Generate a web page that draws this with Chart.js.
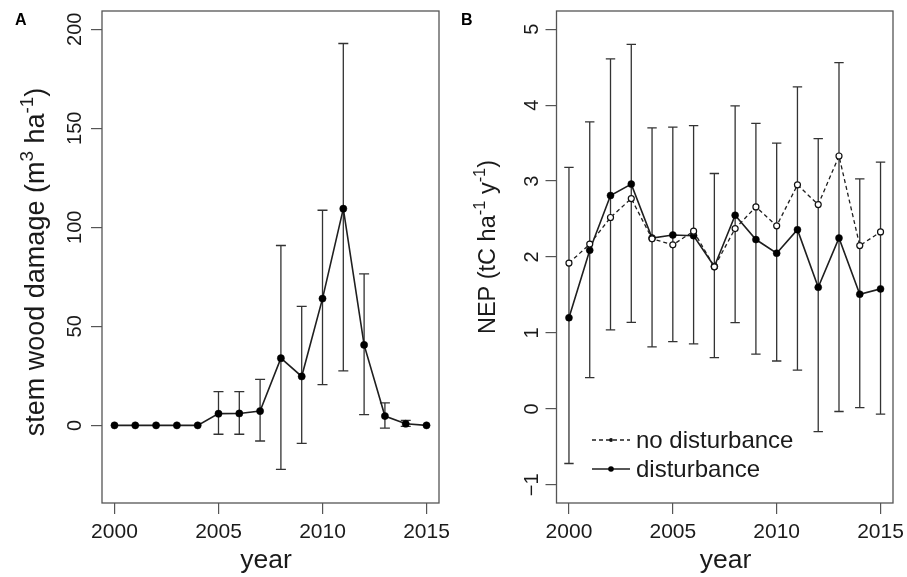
<!DOCTYPE html>
<html><head><meta charset="utf-8">
<script src="https://cdn.jsdelivr.net/npm/chart.js@4.4.1/dist/chart.umd.min.js"></script>
<style>
html,body{margin:0;padding:0;background:#fff;}
#wrap{position:relative;width:907px;height:577px;overflow:hidden;}
canvas{position:absolute;left:0;top:0;}
</style></head><body>
<div id="wrap"><canvas id="cA" width="907" height="577"></canvas><canvas id="cB" width="907" height="577"></canvas></div>
<script>
// ---------- data ----------
const years = [2000,2001,2002,2003,2004,2005,2006,2007,2008,2009,2010,2011,2012,2013,2014,2015];
const xTicks = [2000,2005,2010,2015];

// Panel A: stem wood damage (m3 ha-1)
const damage   = [0,0,0,0,0,5.9,6.0,7.2,33.9,24.7,64.0,109.4,40.6,4.7,0.8,0];
const damageLo = [null,null,null,null,null,-4.5,-4.5,-7.9,-22.2,-9.1,20.6,27.5,5.4,-1.4,-0.5,null];
const damageHi = [null,null,null,null,null,17.0,17.0,23.2,90.8,60.1,108.6,192.8,76.5,11.4,2.5,null];
const yTicksA  = [0,50,100,150,200];

// Panel B: NEP (tC ha-1 y-1)
const nepNoDist = [1.92,2.17,2.52,2.77,2.24,2.16,2.34,1.87,2.375,2.66,2.41,2.95,2.69,3.33,2.15,2.33];
const nepDist   = [1.20,2.09,2.81,2.96,2.25,2.29,2.28,1.875,2.55,2.23,2.05,2.36,1.60,2.25,1.51,1.58];
const nepLo     = [-0.72,0.41,1.04,1.14,0.815,0.885,0.855,0.675,1.135,0.72,0.63,0.51,-0.30,-0.035,0.017,-0.07];
const nepHi     = [3.18,3.78,4.61,4.80,3.70,3.71,3.73,3.10,3.99,3.76,3.50,4.24,3.56,4.56,3.03,3.25];
const yTicksB   = [-1,0,1,2,3,4,5];
const legendLabels = ['no disturbance','disturbance'];

// ---------- styling ----------
const FONT = '"Liberation Sans", Arial, Helvetica, sans-serif';
const TXT = '#1a1a1a';
const AXIS = '#555555';
const LINE = '#1f1f1f';
const ERR = '#333333';

function pts(xs, ys){ return xs.map((x,i)=>({x:x, y:ys[i]})); }
function fmtNum(v){ return v < 0 ? '\u2212' + Math.abs(v) : String(v); }

function richText(ctx, parts, size, x, y, rot){
  ctx.save();
  ctx.translate(x, y);
  ctx.rotate(rot);
  ctx.textBaseline = 'alphabetic';
  ctx.textAlign = 'left';
  ctx.fillStyle = TXT;
  let total = 0; const ws = [];
  parts.forEach(p => { ctx.font = (p.sup ? size*0.7 : size) + 'px ' + FONT; const w = ctx.measureText(p.t).width; ws.push(w); total += w; });
  let cx = -total/2;
  parts.forEach((p,i) => { ctx.font = (p.sup ? size*0.7 : size) + 'px ' + FONT; ctx.fillText(p.t, cx, p.sup ? -size*0.42 : 0); cx += ws[i]; });
  ctx.restore();
}

function errorBars(chart, lo, hi, cap){
  const ctx = chart.ctx, xs = chart.scales.x, ys = chart.scales.y;
  ctx.save();
  ctx.strokeStyle = ERR; ctx.lineWidth = 1.3;
  years.forEach((yr,i) => {
    if (lo[i] === null || hi[i] === null) return;
    const px = xs.getPixelForValue(yr), p1 = ys.getPixelForValue(lo[i]), p2 = ys.getPixelForValue(hi[i]);
    ctx.beginPath();
    ctx.moveTo(px, p1); ctx.lineTo(px, p2);
    ctx.moveTo(px-cap, p1); ctx.lineTo(px+cap, p1);
    ctx.moveTo(px-cap, p2); ctx.lineTo(px+cap, p2);
    ctx.stroke();
  });
  ctx.restore();
}

function drawBox(chart){
  const a = chart.chartArea, ctx = chart.ctx;
  ctx.save(); ctx.strokeStyle = AXIS; ctx.lineWidth = 1.3;
  ctx.strokeRect(a.left, a.top, a.right - a.left, a.bottom - a.top);
  ctx.restore();
}

function xScale(){
  return {
    type:'linear', position:'bottom', min:1999.4, max:2015.6,
    afterBuildTicks: s => { s.ticks = xTicks.map(v => ({value:v})); },
    afterFit: s => { s.height = 74; s.paddingLeft = 0; s.paddingRight = 0; },
    grid:{display:true, drawOnChartArea:false, drawTicks:true, tickLength:11, color:AXIS, lineWidth:1.2},
    border:{display:false},
    ticks:{font:{family:FONT, size:21}, color:TXT, padding:6, minRotation:0, maxRotation:0, autoSkip:false, callback: v => String(v)}
  };
}
function yScale(min, max, ticks, width, pad){
  return {
    type:'linear', position:'left', min:min, max:max,
    afterBuildTicks: s => { s.ticks = ticks.map(v => ({value:v})); },
    afterFit: s => { s.width = width; s.paddingTop = 0; s.paddingBottom = 0; },
    grid:{display:true, drawOnChartArea:false, drawTicks:true, tickLength:11, color:AXIS, lineWidth:1.2},
    border:{display:false},
    ticks:{font:{family:FONT, size:20}, color:TXT, padding:pad, minRotation:90, maxRotation:90, crossAlign:'center', autoSkip:false, callback: v => fmtNum(v)}
  };
}

const common = {
  responsive:false, animation:false, devicePixelRatio:1,
  plugins:{legend:{display:false}, tooltip:{enabled:false}},
  events:[]
};

// ---------- Panel A ----------
new Chart(document.getElementById('cA'), {
  type:'line',
  data:{datasets:[{
    data: pts(years, damage), borderColor:LINE, borderWidth:1.6, tension:0,
    pointRadius:3.6, pointBackgroundColor:'#000', pointBorderColor:'#000', pointBorderWidth:0.5
  }]},
  options:Object.assign({}, common, {
    layout:{padding:{left:0, top:11, right:907-439, bottom:0}},
    scales:{ x:xScale(), y:yScale(-39.2, 209.2, yTicksA, 102, -1) }
  }),
  plugins:[{
    id:'decoA',
    beforeDatasetsDraw(chart){ drawBox(chart); errorBars(chart, damageLo, damageHi, 5); },
    afterDraw(chart){
      const ctx = chart.ctx;
      richText(ctx, [{t:'stem wood damage (m'},{t:'3',sup:true},{t:' ha'},{t:'-1',sup:true},{t:')'}], 27, 44, 262, -Math.PI/2);
      richText(ctx, [{t:'year'}], 26.5, 266, 568, 0);
      ctx.save(); ctx.fillStyle = '#000'; ctx.font = 'bold 16px ' + FONT; ctx.textBaseline = 'alphabetic'; ctx.fillText('A', 15, 25); ctx.restore();
    }
  }]
});

// ---------- Panel B ----------
new Chart(document.getElementById('cB'), {
  type:'line',
  data:{datasets:[
    { label:legendLabels[0], data: pts(years, nepNoDist), borderColor:LINE, borderWidth:1.3, borderDash:[4,3], tension:0,
      pointRadius:3, pointBackgroundColor:'#fff', pointBorderColor:'#111', pointBorderWidth:1.2 },
    { label:legendLabels[1], data: pts(years, nepDist), borderColor:LINE, borderWidth:1.6, tension:0,
      pointRadius:3.5, pointBackgroundColor:'#000', pointBorderColor:'#000', pointBorderWidth:0.5 }
  ]},
  options:Object.assign({}, common, {
    layout:{padding:{left:0, top:11, right:907-893, bottom:0}},
    scales:{ x:xScale(), y:yScale(-1.24, 5.24, yTicksB, 556.5, 2) }
  }),
  plugins:[{
    id:'decoB',
    beforeDatasetsDraw(chart){ drawBox(chart); errorBars(chart, nepLo, nepHi, 4.7); },
    afterDraw(chart){
      const ctx = chart.ctx;
      richText(ctx, [{t:'NEP (tC ha'},{t:'-1',sup:true},{t:' y'},{t:'-1',sup:true},{t:')'}], 23.5, 495, 247, -Math.PI/2);
      richText(ctx, [{t:'year'}], 26.5, 725.5, 568, 0);
      ctx.save(); ctx.fillStyle = '#000'; ctx.font = 'bold 16px ' + FONT; ctx.textBaseline = 'alphabetic'; ctx.fillText('B', 461, 25); ctx.restore();
      // legend
      ctx.save();
      ctx.strokeStyle = LINE; ctx.lineWidth = 1.3;
      ctx.setLineDash([4,3]);
      ctx.beginPath(); ctx.moveTo(592, 440); ctx.lineTo(630, 440); ctx.stroke();
      ctx.setLineDash([]); ctx.lineWidth = 1.6;
      ctx.beginPath(); ctx.moveTo(592, 469); ctx.lineTo(630, 469); ctx.stroke();
      ctx.fillStyle = '#111';
      ctx.beginPath(); ctx.arc(611, 440, 1.9, 0, Math.PI*2); ctx.fill();
      ctx.fillStyle = '#000';
      ctx.beginPath(); ctx.arc(611, 469, 2.8, 0, Math.PI*2); ctx.fill();
      ctx.fillStyle = TXT; ctx.font = '24px ' + FONT; ctx.textBaseline = 'middle'; ctx.textAlign = 'left';
      ctx.fillText(legendLabels[0], 636, 441);
      ctx.fillText(legendLabels[1], 636, 470);
      ctx.restore();
    }
  }]
});
</script>
</body></html>
